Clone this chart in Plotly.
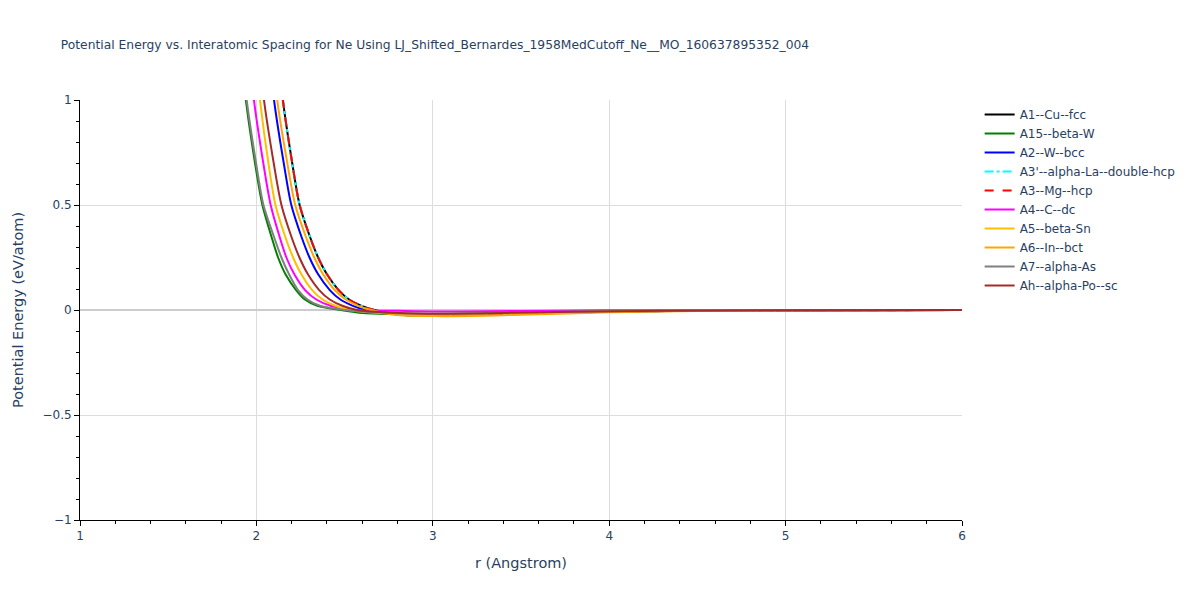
import plotly.graph_objects as go

title = "Potential Energy vs. Interatomic Spacing for Ne Using LJ_Shifted_Bernardes_1958MedCutoff_Ne__MO_160637895352_004"

# Repulsive-branch energy levels (eV/atom) shared by every series
e_levels = [1.6, 1.0, 0.7, 0.5, 0.35, 0.25, 0.17, 0.095, 0.05, 0.02, 0.0]

# r (Angstrom) at those energy levels, per structure
r_fcc = [2.078, 2.150, 2.203, 2.245, 2.303, 2.350, 2.400, 2.466, 2.526, 2.597, 2.669]
r_a15 = [1.865, 1.940, 1.992, 2.034, 2.085, 2.123, 2.165, 2.225, 2.275, 2.345, 2.480]
r_bcc = [2.028, 2.100, 2.155, 2.198, 2.255, 2.301, 2.350, 2.416, 2.476, 2.547, 2.620]
r_dhcp = r_fcc
r_hcp = r_fcc
r_dc = [1.913, 1.986, 2.039, 2.081, 2.131, 2.170, 2.215, 2.276, 2.340, 2.420, 2.560]
r_bsn = [1.948, 2.020, 2.068, 2.108, 2.163, 2.208, 2.255, 2.316, 2.376, 2.447, 2.530]
r_bct = [2.048, 2.118, 2.175, 2.220, 2.280, 2.328, 2.378, 2.444, 2.506, 2.577, 2.650]
r_as = [1.873, 1.945, 1.998, 2.040, 2.099, 2.142, 2.185, 2.236, 2.290, 2.360, 2.500]
r_sc = [1.973, 2.043, 2.098, 2.142, 2.198, 2.244, 2.292, 2.356, 2.416, 2.487, 2.570]

# Attractive tails: (r list, energy list)
tail_fcc_r = [2.8, 3.0, 3.2, 3.5, 4.0, 4.5, 5.0, 5.5, 6.0]
tail_fcc_e = [-0.021, -0.027, -0.024, -0.017, -0.008, -0.004, -0.002, -0.001, 0.0]
tail_a15_r = [2.6, 2.75, 2.9, 3.1, 3.4, 3.8, 4.3, 5.0, 6.0]
tail_a15_e = [-0.014, -0.019, -0.020, -0.019, -0.014, -0.008, -0.004, -0.001, 0.0]
tail_bcc_r = [2.75, 2.9, 3.1, 3.4, 3.8, 4.2, 4.7, 5.3, 6.0]
tail_bcc_e = [-0.016, -0.024, -0.026, -0.021, -0.012, -0.006, -0.003, -0.001, 0.0]
tail_dc_r = [2.8, 3.0, 3.3, 3.7, 4.2, 5.0, 6.0]
tail_dc_e = [-0.004, -0.007, -0.006, -0.003, -0.001, 0.0, 0.0]
tail_bsn_r = [2.7, 2.9, 3.1, 3.4, 3.8, 4.3, 5.0, 6.0]
tail_bsn_e = [-0.014, -0.020, -0.021, -0.016, -0.009, -0.004, -0.001, 0.0]
tail_bct_r = [2.8, 3.0, 3.3, 3.6, 4.0, 4.5, 5.0, 5.5, 6.0]
tail_bct_e = [-0.024, -0.029, -0.027, -0.020, -0.011, -0.005, -0.002, -0.001, 0.0]
tail_as_r = [2.7, 2.9, 3.1, 3.4, 3.8, 4.3, 5.0, 6.0]
tail_as_e = [-0.012, -0.017, -0.017, -0.013, -0.007, -0.003, -0.001, 0.0]
tail_sc_r = [2.7, 2.9, 3.1, 3.4, 3.8, 4.3, 5.0, 6.0]
tail_sc_e = [-0.010, -0.017, -0.018, -0.014, -0.008, -0.004, -0.001, 0.0]

series = [
    ("A1--Cu--fcc", r_fcc, tail_fcc_r, tail_fcc_e, "black", "solid"),
    ("A15--beta-W", r_a15, tail_a15_r, tail_a15_e, "green", "solid"),
    ("A2--W--bcc", r_bcc, tail_bcc_r, tail_bcc_e, "blue", "solid"),
    ("A3'--alpha-La--double-hcp", r_dhcp, tail_fcc_r, tail_fcc_e, "cyan", "dashdot"),
    ("A3--Mg--hcp", r_hcp, tail_fcc_r, tail_fcc_e, "red", "dash"),
    ("A4--C--dc", r_dc, tail_dc_r, tail_dc_e, "magenta", "solid"),
    ("A5--beta-Sn", r_bsn, tail_bsn_r, tail_bsn_e, "#FFC000", "solid"),
    ("A6--In--bct", r_bct, tail_bct_r, tail_bct_e, "orange", "solid"),
    ("A7--alpha-As", r_as, tail_as_r, tail_as_e, "grey", "solid"),
    ("Ah--alpha-Po--sc", r_sc, tail_sc_r, tail_sc_e, "brown", "solid"),
]

fig = go.Figure()
for name, rr, tr, te, color, dash in series:
    fig.add_trace(go.Scatter(
        x=list(rr) + list(tr), y=list(e_levels) + list(te),
        mode="lines", name=name,
        line=dict(color=color, width=2, dash=dash, shape="spline", smoothing=0.8),
    ))

FONT = "DejaVu Sans, Verdana, sans-serif"
TXT = "#2a3f5f"
axis_font = dict(family=FONT, size=12, color=TXT)
fig.update_layout(
    width=1200, height=600,
    title=dict(text=title, x=0.044, xanchor="left", y=1 - 37 / 600, yanchor="middle",
               font=dict(family=FONT, size=12.3, color=TXT)),
    font=dict(family=FONT, color=TXT),
    paper_bgcolor="white", plot_bgcolor="white",
    margin=dict(l=72, r=246, t=92, b=88),
    showlegend=True,
    legend=dict(x=1.02, y=1, xanchor="left", yanchor="top", font=dict(family=FONT, size=12, color=TXT)),
    xaxis=dict(
        title=dict(text="r (Angstrom)", font=dict(family=FONT, size=14.5, color=TXT)),
        range=[1, 6], dtick=1, showline=True, linecolor="black", linewidth=1,
        ticks="outside", ticklen=5, tickcolor="black", automargin=False,
        minor=dict(dtick=0.2, ticks="outside", ticklen=3, tickcolor="black", showgrid=False),
        showgrid=True, gridcolor="#dddddd", zeroline=False, tickfont=axis_font,
    ),
    yaxis=dict(
        title=dict(text="Potential Energy (eV/atom)", font=dict(family=FONT, size=14.5, color=TXT)),
        range=[-1, 1], dtick=0.5, showline=True, linecolor="black", linewidth=1,
        ticks="outside", ticklen=5, tickcolor="black", automargin=False,
        minor=dict(dtick=0.1, ticks="outside", ticklen=3, tickcolor="black", showgrid=False),
        showgrid=True, gridcolor="#dddddd", zeroline=True, zerolinecolor="#cccccc",
        zerolinewidth=2, tickfont=axis_font,
    ),
)

fig.write_html("out.html")
